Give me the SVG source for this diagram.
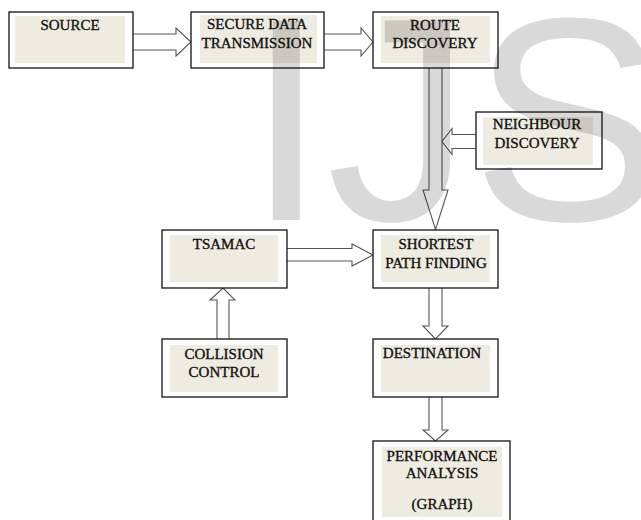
<svg xmlns="http://www.w3.org/2000/svg" width="641" height="520" viewBox="0 0 641 520">
<style>
.box{fill:#fff;stroke:#111;stroke-width:1.3}
.in{fill:#eeebe1;stroke:none}
.t{font-size:15px;fill:#111;stroke:#111;stroke-width:0.35;text-anchor:middle}
.arr{fill:#fff;stroke:#555;stroke-width:1.1;stroke-linejoin:miter}
.wm{font-size:290px;fill:#000;fill-opacity:0.15}
</style>
<rect width="641" height="520" fill="#fff"/>
<g id="connectors">
<path class="arr" d="M133,34 H176 V28 L191,42 L176,56 V50 H133"/>
<path class="arr" d="M324,34 H361 V28 L373,42 L361,56 V50 H324"/>
<path class="arr" d="M429,68 V190 H423 L435.5,229.5 L448,190 H442 V68"/>
<path class="arr" d="M476,134.5 H452 V128.5 L442,141.5 L452,154.5 V148.5 H476"/>
<path class="arr" d="M287,248.5 H352 V244 L373,255 L352,266 V261 H287"/>
<path class="arr" d="M217,339 V300 H210 L223,288 L235,300 H229 V339"/>
<path class="arr" d="M429,288 V326 H423 L435.5,339 L448,326 H442 V288"/>
<path class="arr" d="M429,397 V430 H423 L435.5,441 L448,430 H442 V397"/>
</g>
<g font-family="'Liberation Serif', 'Times New Roman', 'DejaVu Serif', serif">
<g id="source"><rect class="box" x="9" y="12" width="124" height="56"/><rect class="in" x="15" y="16" width="110" height="47"/><text class="t" x="70" y="30">SOURCE</text></g>
<g id="secure"><rect class="box" x="191" y="12" width="133" height="56"/><rect class="in" x="200" y="15" width="117" height="48"/><text class="t" x="257" y="29">SECURE DATA</text><text class="t" x="257" y="48">TRANSMISSION</text></g>
<g id="route"><rect class="box" x="373" y="12" width="125" height="56"/><rect class="in" x="381" y="16" width="109" height="47"/><text class="t" x="435" y="30">ROUTE</text><text class="t" x="435" y="48">DISCOVERY</text></g>
<g id="neighbour"><rect class="box" x="476" y="112" width="126" height="57"/><rect class="in" x="483" y="117" width="110" height="48"/><text class="t" x="537" y="129">NEIGHBOUR</text><text class="t" x="537" y="148">DISCOVERY</text></g>
<g id="tsamac"><rect class="box" x="162" y="230" width="125" height="58"/><rect class="in" x="170" y="235" width="108" height="47"/><text class="t" x="224" y="249">TSAMAC</text></g>
<g id="shortest"><rect class="box" x="373" y="230" width="125" height="58"/><rect class="in" x="381" y="235" width="109" height="47"/><text class="t" x="436" y="249">SHORTEST</text><text class="t" x="436" y="268">PATH FINDING</text></g>
<g id="collision"><rect class="box" x="162" y="339" width="125" height="58"/><rect class="in" x="170" y="345" width="108" height="47"/><text class="t" x="224" y="359">COLLISION</text><text class="t" x="224" y="377">CONTROL</text></g>
<g id="destination"><rect class="box" x="373" y="339" width="125" height="58"/><rect class="in" x="381" y="345" width="109" height="47"/><text class="t" x="432" y="358">DESTINATION</text></g>
<g id="performance"><rect class="box" x="373" y="441" width="137" height="85"/><rect class="in" x="382" y="447" width="120" height="70"/><text class="t" x="442" y="461">PERFORMANCE</text><text class="t" x="442" y="478">ANALYSIS</text><text class="t" x="442" y="509">(GRAPH)</text></g>
</g>
<text class="wm" font-family="'Liberation Sans', Arial, sans-serif" x="246" y="220">IJS</text>
</svg>
